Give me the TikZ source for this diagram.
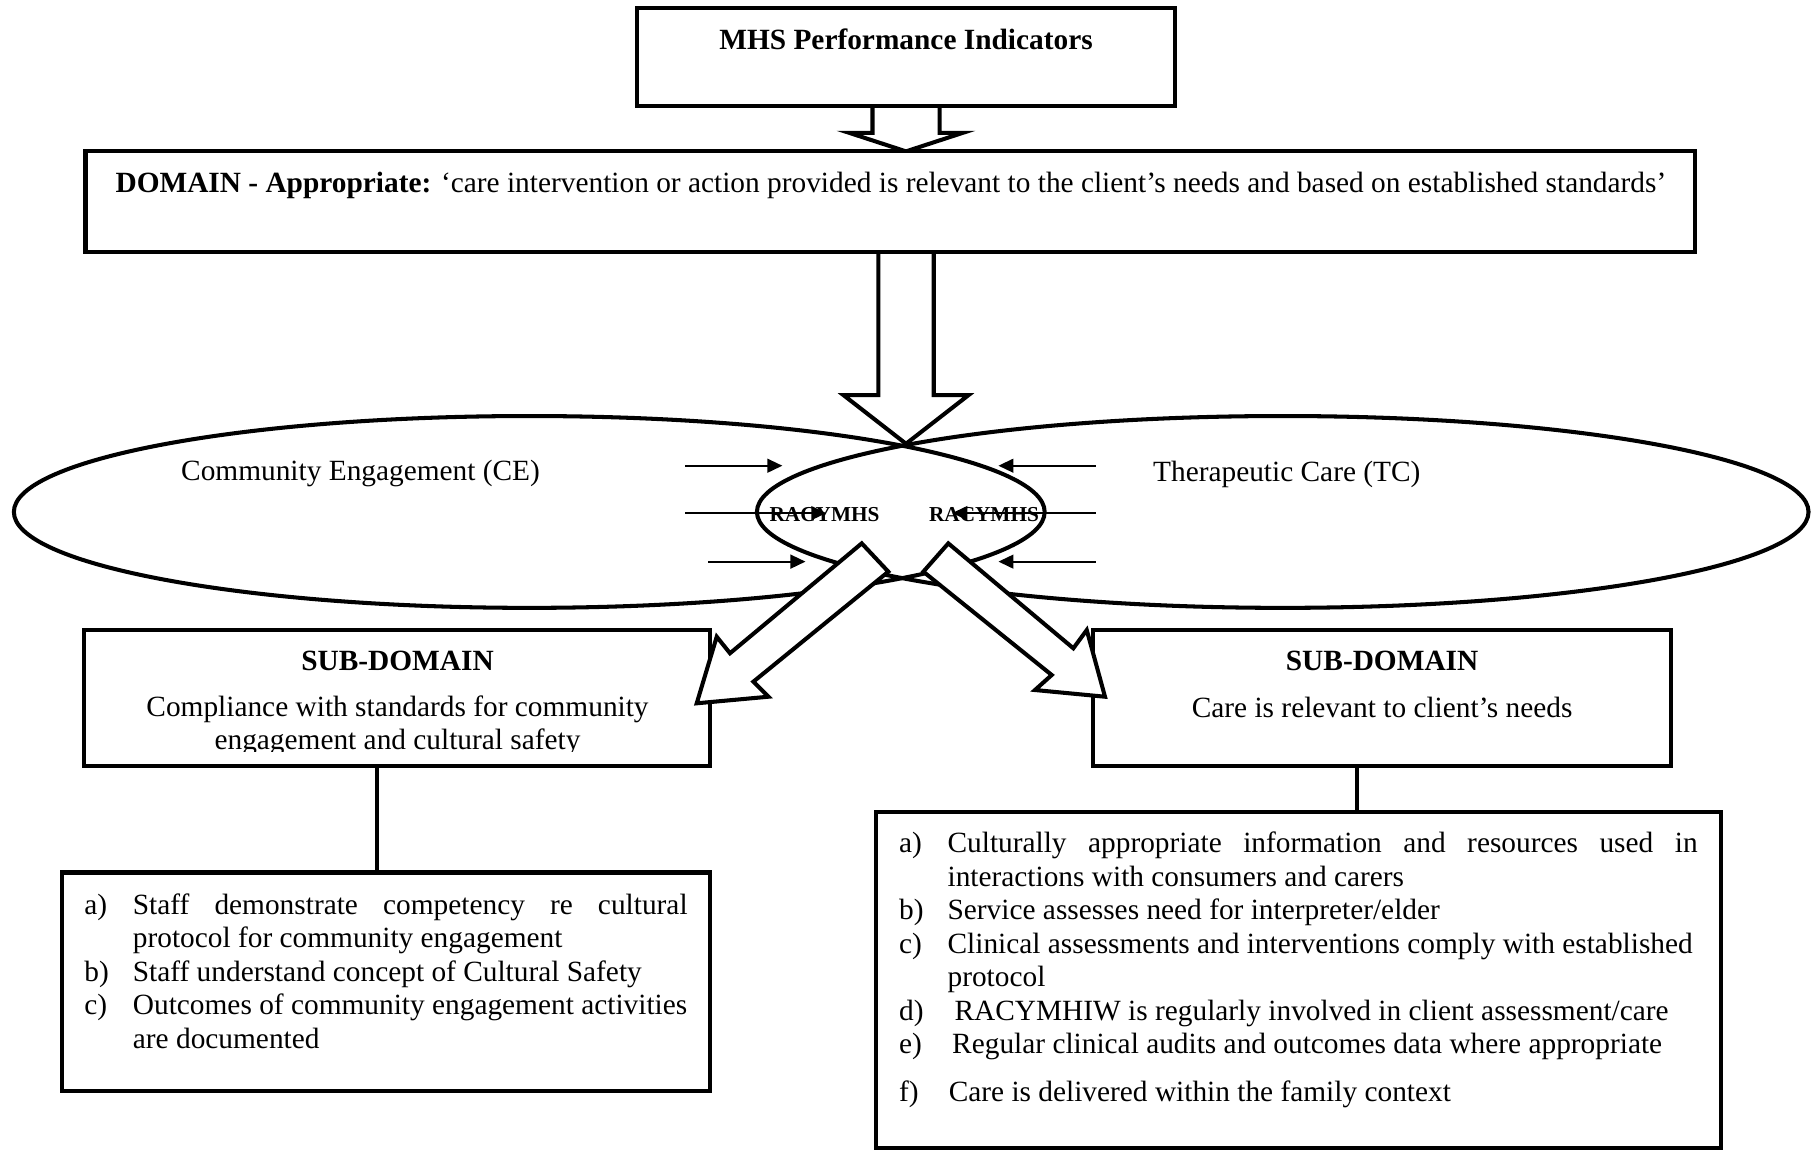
\documentclass[tikz,border=0pt]{standalone}
\usepackage{fontspec}
\setmainfont{Liberation Serif}
\usetikzlibrary{shapes.geometric,arrows.meta,calc}
\begin{document}
\begin{tikzpicture}[x=1pt,y=-1pt,
  txt/.style={inner sep=0pt, outer sep=0pt, font=\fontsize{25.4}{29}\selectfont},
  btxt/.style={inner sep=0pt, outer sep=0pt, font=\fontsize{25.4}{29}\selectfont\bfseries},
  rtxt/.style={inner sep=0pt, outer sep=0pt, font=\fontsize{18.4}{20}\selectfont\bfseries},
  frame/.style={draw, line width=3.5pt, fill=white, inner sep=0pt, outer sep=0pt},
  oval/.style={ellipse, draw, line width=3.5pt, inner sep=0pt, outer sep=0pt},
  barrow/.style={draw, line width=3.5pt, fill=white, line join=miter},
  thinarrow/.style={line width=1.6pt, -{Triangle[length=13pt,width=12pt]}},
  conn/.style={line width=3.5pt}
]
\useasboundingbox (0,0) rectangle (1568,995);

% ---- ellipses ----
\node[oval, minimum width=892pt, minimum height=166pt] (ce) at (458,443) {};
\node[oval, minimum width=910pt, minimum height=166pt] (tc) at (1110,443) {};
\node[txt, anchor=base] (cetxt) at (312,416) {Community Engagement (CE)};
\node[txt, anchor=base] (tctxt) at (1113.5,417) {Therapeutic Care (TC)};
\node[rtxt, anchor=base] (r1) at (713.5,451) {RACYMHS};
\node[rtxt, anchor=base] (r2) at (851.5,451) {RACYMHS};

% ---- thin arrows ----
\coordinate (la1) at (593,403); \coordinate (lb1) at (677,403);
\coordinate (la2) at (593,444); \coordinate (lb2) at (715,444);
\coordinate (la3) at (613,486); \coordinate (lb3) at (697,486);
\coordinate (ra1) at (948,403); \coordinate (rb1) at (864,403);
\coordinate (ra2) at (948,444); \coordinate (rb2) at (824,444);
\coordinate (ra3) at (948,486); \coordinate (rb3) at (864,486);
\draw[thinarrow] (la1) -- (lb1);
\draw[thinarrow] (la2) -- (lb2);
\draw[thinarrow] (la3) -- (lb3);
\draw[thinarrow] (ra1) -- (rb1);
\draw[thinarrow] (ra2) -- (rb2);
\draw[thinarrow] (ra3) -- (rb3);

% ---- box positions (for arrows) ----
\coordinate (topS) at (784,92);
\coordinate (domN) at (784,131);
\coordinate (domS) at (784,218);
\coordinate (lens) at (784,384);

% ---- top block arrows ----
\draw[barrow] ($(topS)+(-29,-2)$) -- ($(topS)+(-29,23)$) -- ($(topS)+(-49,23)$)
  -- (domN) -- ($(topS)+(49,23)$) -- ($(topS)+(29,23)$) -- ($(topS)+(29,-2)$);
\draw[barrow] ($(domS)+(-24,-2)$) -- ($(domS)+(-24,124)$) -- ($(domS)+(-54,124)$)
  -- (lens) -- ($(domS)+(54,124)$) -- ($(domS)+(24,124)$) -- ($(domS)+(24,-2)$);

% ---- boxes ----
\node[frame, minimum width=466pt, minimum height=85pt] (top) at (784,49.5) {};
\node[btxt, anchor=base] (toptxt) at (784,43) {MHS Performance Indicators};

\node[frame, minimum width=1393pt, minimum height=87pt] (domain) at (770.5,174.5) {};
\node[txt, anchor=base west] (domtxt) at (100,167)
  {\textbf{DOMAIN - Appropriate:} ‘care intervention or action provided is relevant to the client’s needs and based on established standards’};

\node[frame, minimum width=541pt, minimum height=118pt] (subL) at (343.5,604) {};
\node[btxt, anchor=base] (subLh) at (344,580) {SUB-DOMAIN};
\node[txt, anchor=base] (subL1) at (344,620) {Compliance with standards for community};
\begin{scope}
  \clip (80,600) rectangle (608,650.5);
  \node[txt, anchor=base] (subL2) at (344,649) {engagement and cultural safety};
\end{scope}

\node[frame, minimum width=500pt, minimum height=118pt] (subR) at (1196,604) {};
\node[btxt, anchor=base] (subRh) at (1196,580) {SUB-DOMAIN};
\node[txt, anchor=base] (subR1) at (1196,621) {Care is relevant to client’s needs};

% ---- item boxes ----
\node[frame, minimum width=560pt, minimum height=189pt] (itemsL) at (334,849.5) {};
\node[txt, anchor=base west] (la) at (73,791) {a)};
\node[txt, anchor=base west] (lat1) at (115,791) {\makebox[480pt][s]{Staff demonstrate competency re cultural}};
\node[txt, anchor=base west] (lat2) at (115,820) {protocol for community engagement};
\node[txt, anchor=base west] (lb) at (73,849) {b)};
\node[txt, anchor=base west] (lbt) at (115,849) {Staff understand concept of Cultural Safety};
\node[txt, anchor=base west] (lc) at (73,878) {c)};
\node[txt, anchor=base west] (lct1) at (115,878) {Outcomes of community engagement activities};
\node[txt, anchor=base west] (lct2) at (115,907) {are documented};

\node[frame, minimum width=731pt, minimum height=290pt] (itemsR) at (1123.5,848) {};
\node[txt, anchor=base west] (ra) at (778,738) {a)};
\node[txt, anchor=base west] (rat1) at (820,738) {\makebox[649pt][s]{Culturally appropriate information and resources used in}};
\node[txt, anchor=base west] (rat2) at (820,767) {interactions with consumers and carers};
\node[txt, anchor=base west] (rb) at (778,796) {b)};
\node[txt, anchor=base west] (rbt) at (820,796) {Service assesses need for interpreter/elder};
\node[txt, anchor=base west] (rc) at (778,825) {c)};
\node[txt, anchor=base west] (rct1) at (820,825) {Clinical assessments and interventions comply with established};
\node[txt, anchor=base west] (rct2) at (820,854) {protocol};
\node[txt, anchor=base west] (rd) at (778,883) {d)};
\node[txt, anchor=base west] (rdt) at (826,883) {RACYMHIW is regularly involved in client assessment/care};
\node[txt, anchor=base west] (re) at (778,912) {e)};
\node[txt, anchor=base west] (ret) at (824,912) {Regular clinical audits and outcomes data where appropriate};
\node[txt, anchor=base west] (rf) at (778,953) {f)};
\node[txt, anchor=base west] (rft) at (821,953) {Care is delivered within the family context};

% ---- lower block arrows ----
\draw[barrow] (745.7,470.2) -- (631.7,565.3) -- (620.2,551) -- (602.9,608.6)
  -- (664.9,602.9) -- (651.9,589.9) -- (768.7,494.7) -- cycle;
\draw[barrow] (820.6,470.2) -- (928.8,561) -- (940.4,545.2) -- (956.2,602.9)
  -- (895.6,597.1) -- (910.1,584.1) -- (799,494.7) -- cycle;

% ---- connectors ----
\coordinate (lcx) at (326,0);
\coordinate (rcx) at (1174,0);
\draw[conn] (subL.south -| lcx) -- (itemsL.north -| lcx);
\draw[conn] (subR.south -| rcx) -- (itemsR.north -| rcx);
\end{tikzpicture}
\end{document}
